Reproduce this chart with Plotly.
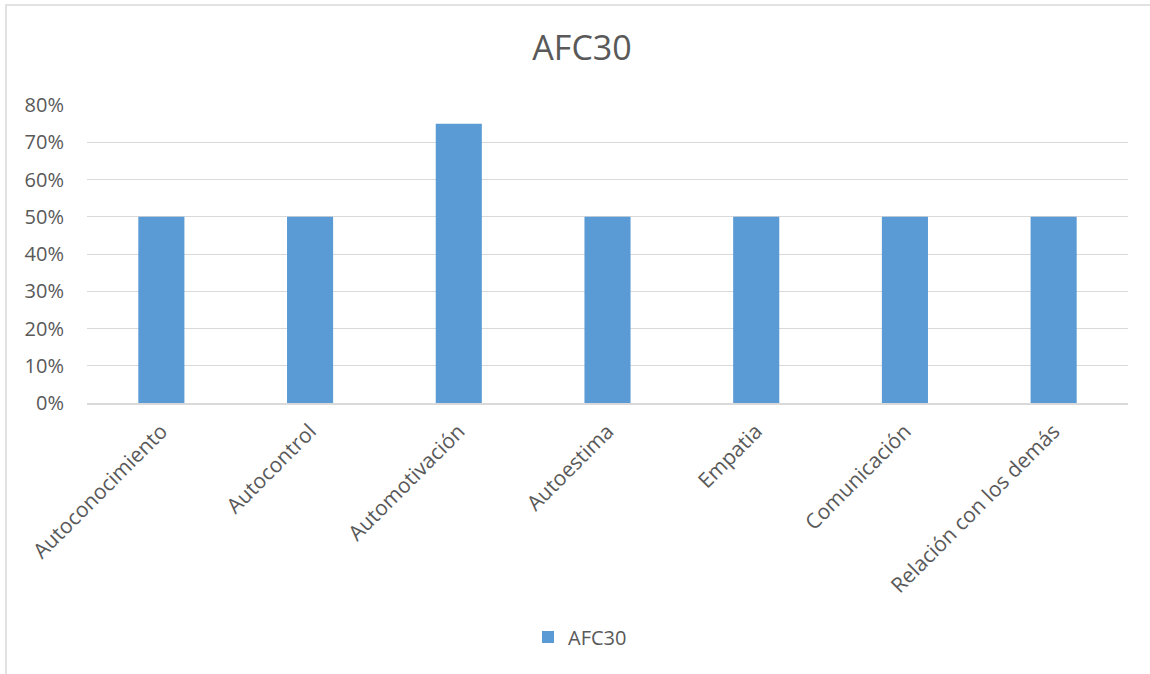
import plotly.graph_objects as go

categories = ["Autoconocimiento", "Autocontrol", "Automotivación", "Autoestima",
              "Empatia", "Comunicación", "Relación con los demás"]
values = [0.50, 0.50, 0.75, 0.50, 0.50, 0.50, 0.50]
series_name = "AFC30"
y_ticks = [0, 0.1, 0.2, 0.3, 0.4, 0.5, 0.6, 0.7, 0.8]
y_tick_labels = ["0%", "10%", "20%", "30%", "40%", "50%", "60%", "70%", "80%"]

W, H = 1150, 674
L, R, T, B = 87, 22, 105, 271
pw, ph = W - L - R, H - T - B

fig = go.Figure(go.Bar(
    x=categories, y=values, name=series_name,
    marker=dict(color="#5b9bd5", line=dict(width=0)),
    showlegend=True,
))

fig.update_layout(
    width=W, height=H,
    margin=dict(l=L, r=R, t=T, b=B),
    paper_bgcolor="white", plot_bgcolor="white",
    font=dict(family="Open Sans, Noto Sans, sans-serif", color="#595959", size=20),
    title=dict(text="AFC30", x=582 / W, xanchor="center", y=1 - 48 / H, yanchor="middle",
               font=dict(size=34, color="#595959")),
    bargap=0.69,
    showlegend=True,
    legend=dict(orientation="h", x=(580 - L) / pw, xanchor="center",
                y=-(637 - (T + ph)) / ph, yanchor="middle",
                font=dict(size=20, color="#595959")),
    xaxis=dict(showgrid=False, showline=True, linecolor="#d9d9d9", linewidth=1.5,
               ticks="", tickangle=-45, tickfont=dict(size=21),
               ticklabelstandoff=6),
    yaxis=dict(range=[0, 0.8], tickvals=y_ticks, ticktext=y_tick_labels,
               showgrid=True, gridcolor="#d9d9d9", gridwidth=1.2,
               zeroline=False, showline=False, ticks="",
               tickfont=dict(size=20), ticklabelstandoff=22),
)

# outer chart frame
fig.add_shape(type="rect", xref="paper", yref="paper",
              x0=(6 - L) / pw, x1=(W + 10 - L) / pw,
              y0=-(H + 10 - T - ph) / ph, y1=1 + (T - 5) / ph,
              line=dict(color="#d9d9d9", width=1.5), fillcolor="rgba(0,0,0,0)",
              layer="below")

fig.write_html("out.html")
